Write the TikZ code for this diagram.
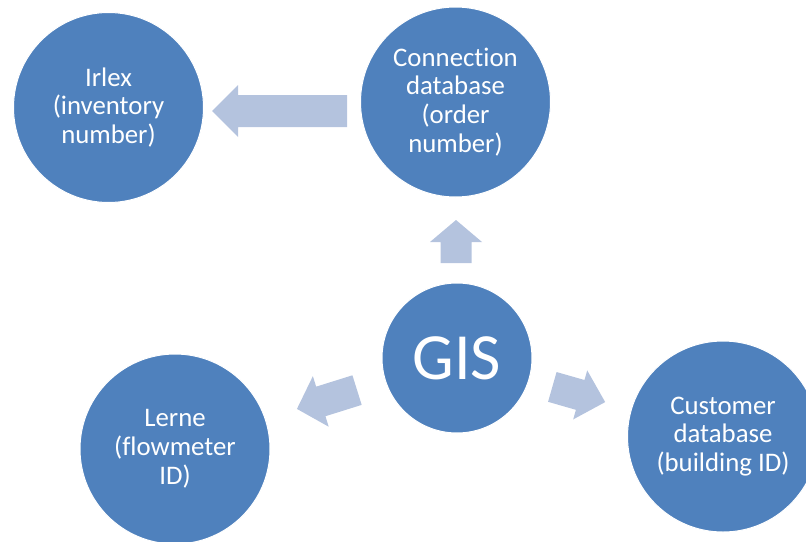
\documentclass[tikz,border=0pt]{standalone}
\usepackage{fontspec}
\setmainfont[Ligatures=NoCommon]{Carlito}
\definecolor{bubblefill}{HTML}{4F81BD}
\definecolor{arrowfill}{HTML}{B4C3DE}
\tikzset{
  bubble/.style={circle, fill=bubblefill, draw=white, line width=1pt,
    minimum size=190pt, inner sep=0pt, text=white, align=center,
    font=\fontsize{26.8}{28.8}\selectfont},
  % block arrow pointing along +x: length/head width/shaft width/head length
  pics/blockarr/.style args={#1/#2/#3/#4}{code={
    \fill[arrowfill] ({-#1/2},{-#3/2}) -- ({#1/2-#4},{-#3/2}) -- ({#1/2-#4},{-#2/2})
      -- ({#1/2},0) -- ({#1/2-#4},{#2/2}) -- ({#1/2-#4},{#3/2}) -- ({-#1/2},{#3/2}) -- cycle;
  }}
}
\begin{document}
\begin{tikzpicture}[x=1pt,y=-1pt]
  \useasboundingbox (0,0) rectangle (806,541);
  % the five sources
  \node[bubble] (irlex) at (108.5,107.5) {Irlex\\(inventory\\number)};
  \node[bubble] (conn) at (455.5,102) {Connection\\database\\(order\\number)};
  \node[bubble, minimum size=150pt, font=\fontsize{66}{70}\selectfont] (gis) at (457,358) {GIS};
  \node[bubble] (lerne) at (175,449) {Lerne\\(flowmeter\\ID)};
  \node[bubble, minimum size=191pt] (cust) at (723,436.5) {Customer\\database\\(building ID)};
  % arrows between them
  \pic[rotate=180] at (279.5,111) {blockarr={135/52/32/26}};
  \pic[rotate=90] at (456,241.5) {blockarr={43/52/31/22}};
  \pic[rotate=197.4] at (327,399.5) {blockarr={63/53/31/25}};
  \pic[rotate=-16] at (578.75,394.5) {blockarr={55/51/31/26}};
\end{tikzpicture}
\end{document}
